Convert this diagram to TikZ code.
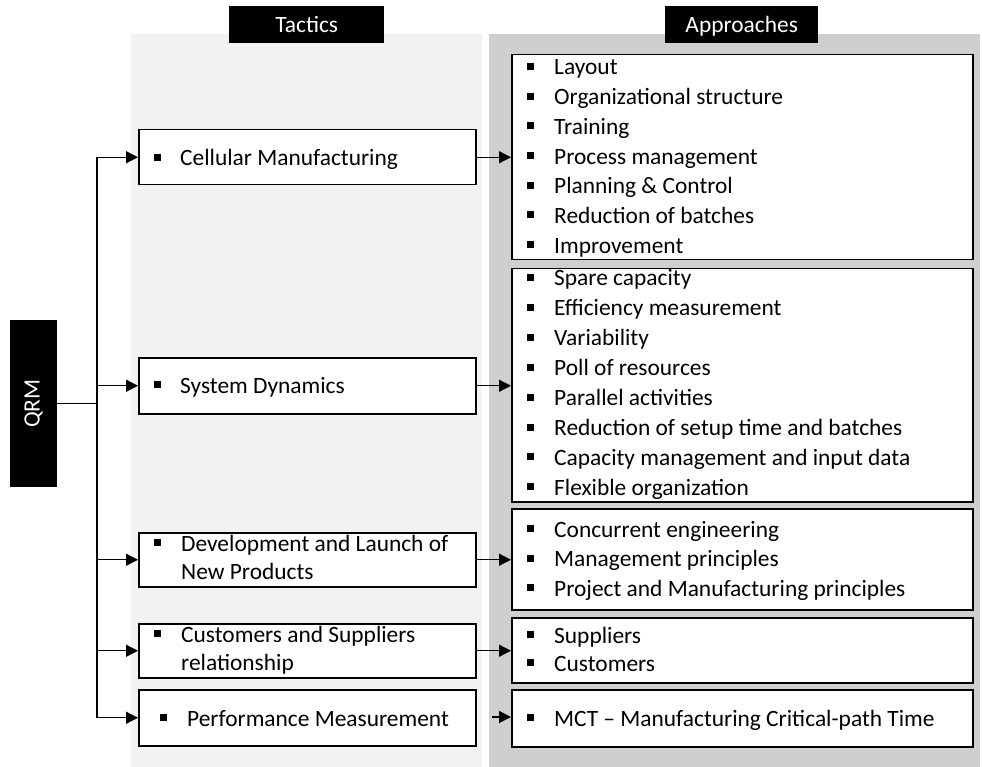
\documentclass[tikz,border=0pt]{standalone}
\usepackage{fontspec}
\setmainfont{Carlito}
\usetikzlibrary{arrows.meta}
\definecolor{lightpanel}{RGB}{242,242,242}
\definecolor{darkpanel}{RGB}{208,207,207}
\begin{document}
\begin{tikzpicture}[x=1pt,y=-1pt,
  every node/.style={font=\fontsize{23.4}{28}\selectfont},
  box/.style={draw=black, line width=1.5pt, fill=white, inner sep=0pt, anchor=north west},
  hdr/.style={fill=black, text=white, inner sep=0pt, anchor=north west},
  htxt/.style={fill=black, text=white, inner sep=0pt, anchor=north west, text height=26pt, text depth=11pt},
  txt/.style={anchor=base west, inner sep=0pt},
  ln/.style={line width=1.3pt},
  arr/.style={line width=1.3pt, -{Triangle[length=12pt,width=12pt]}}]
\useasboundingbox (0,0) rectangle (982,767);
% panels
\fill[lightpanel] (131,34) rectangle (482,767);
\fill[darkpanel] (489,34) rectangle (980,767);
% headers
\node[htxt, text width=155pt, align=center] (hT) at (229,6) {Tactics};
\node[htxt, text width=153pt, align=center] (hA) at (665,6) {Approaches};
% QRM
\node[hdr, minimum width=47pt, minimum height=167pt] (q) at (10,320) {};
\node[text=white, rotate=90, inner sep=0pt] (qt) at (q.center) {QRM};
% tactic boxes
\node[box, minimum width=337pt, minimum height=55pt] (t1) at (138,129) {};
\node[box, minimum width=337pt, minimum height=56pt] (t2) at (138,357) {};
\node[box, minimum width=337pt, minimum height=54pt] (t3) at (138,532) {};
\node[box, minimum width=337pt, minimum height=54pt] (t4) at (138,623) {};
\node[box, minimum width=337pt, minimum height=56pt] (t5) at (138,689) {};
% approach boxes
\node[box, minimum width=461pt, minimum height=205pt] (a1) at (511,54) {};
\node[box, minimum width=461pt, minimum height=233pt] (a2) at (511,268) {};
\node[box, minimum width=461pt, minimum height=101pt] (a3) at (511,508) {};
\node[box, minimum width=461pt, minimum height=65pt] (a4) at (511,617) {};
\node[box, minimum width=461pt, minimum height=57pt] (a5) at (511,689) {};
% tactic texts
\fill (154,{166-12}) rectangle ++(7,7);
\node[txt] (t1a) at (180,166) {Cellular Manufacturing};
\fill (154,{393-12}) rectangle ++(7,7);
\node[txt] (t2a) at (180,393) {System Dynamics};
\fill (154,{551-12}) rectangle ++(7,7);
\node[txt] (t3a) at (181,551) {Development and Launch of};
\node[txt] (t3b) at (181,579) {New Products};
\fill (154,{642-12}) rectangle ++(7,7);
\node[txt] (t4a) at (181,642) {Customers and Suppliers};
\node[txt] (t4b) at (181,670) {relationship};
\fill (160,{726-12}) rectangle ++(7,7);
\node[txt] (t5a) at (187,726) {Performance Measurement};
% approach texts
\foreach \t [count=\i] in {Layout, Organizational structure, Training, Process management, Planning \& Control, Reduction of batches, Improvement}{
  \fill (527,{75+29.7*(\i-1)-12}) rectangle ++(7,7);
  \node[txt] (a1l\i) at (554,{75+29.7*(\i-1)}) {\t};
}
\foreach \t [count=\i] in {Spare capacity, Efficiency measurement, Variability, Poll of resources, Parallel activities, Reduction of setup time and batches, Capacity management and input data, Flexible organization}{
  \fill (527,{286+29.9*(\i-1)-12}) rectangle ++(7,7);
  \node[txt] (a2l\i) at (554,{286+29.9*(\i-1)}) {\t};
}
\foreach \t [count=\i] in {Concurrent engineering, Management principles, Project and Manufacturing principles}{
  \fill (527,{537+29.5*(\i-1)-12}) rectangle ++(7,7);
  \node[txt] (a3l\i) at (554,{537+29.5*(\i-1)}) {\t};
}
\foreach \t [count=\i] in {Suppliers, Customers}{
  \fill (527,{643+28*(\i-1)-12}) rectangle ++(7,7);
  \node[txt] (a4l\i) at (554,{643+28*(\i-1)}) {\t};
}
\fill (527,{726-12}) rectangle ++(7,7);
\node[txt] (a5l1) at (554,726) {MCT -- Manufacturing Critical-path Time};
% connectors
\coordinate (tx) at (97,0);
\draw[ln] (t1.west -| tx) -- (t5.west -| tx);
\draw[ln] (q.east) -- (q.east -| tx);
\foreach \n in {t1,t2,t3,t4,t5}{
  \draw[arr] (\n.west -| tx) -- (\n.west);
}
\draw[arr] (t1.east) -- (t1.east -| a1.west);
\draw[arr] (t2.east) -- (t2.east -| a2.west);
\draw[arr] (t3.east) -- (t3.east -| a3.west);
\draw[arr] (t4.east) -- (t4.east -| a4.west);
\coordinate (p5) at (492,717);
\draw[arr] (p5) -- (p5 -| a5.west);
\end{tikzpicture}
\end{document}
